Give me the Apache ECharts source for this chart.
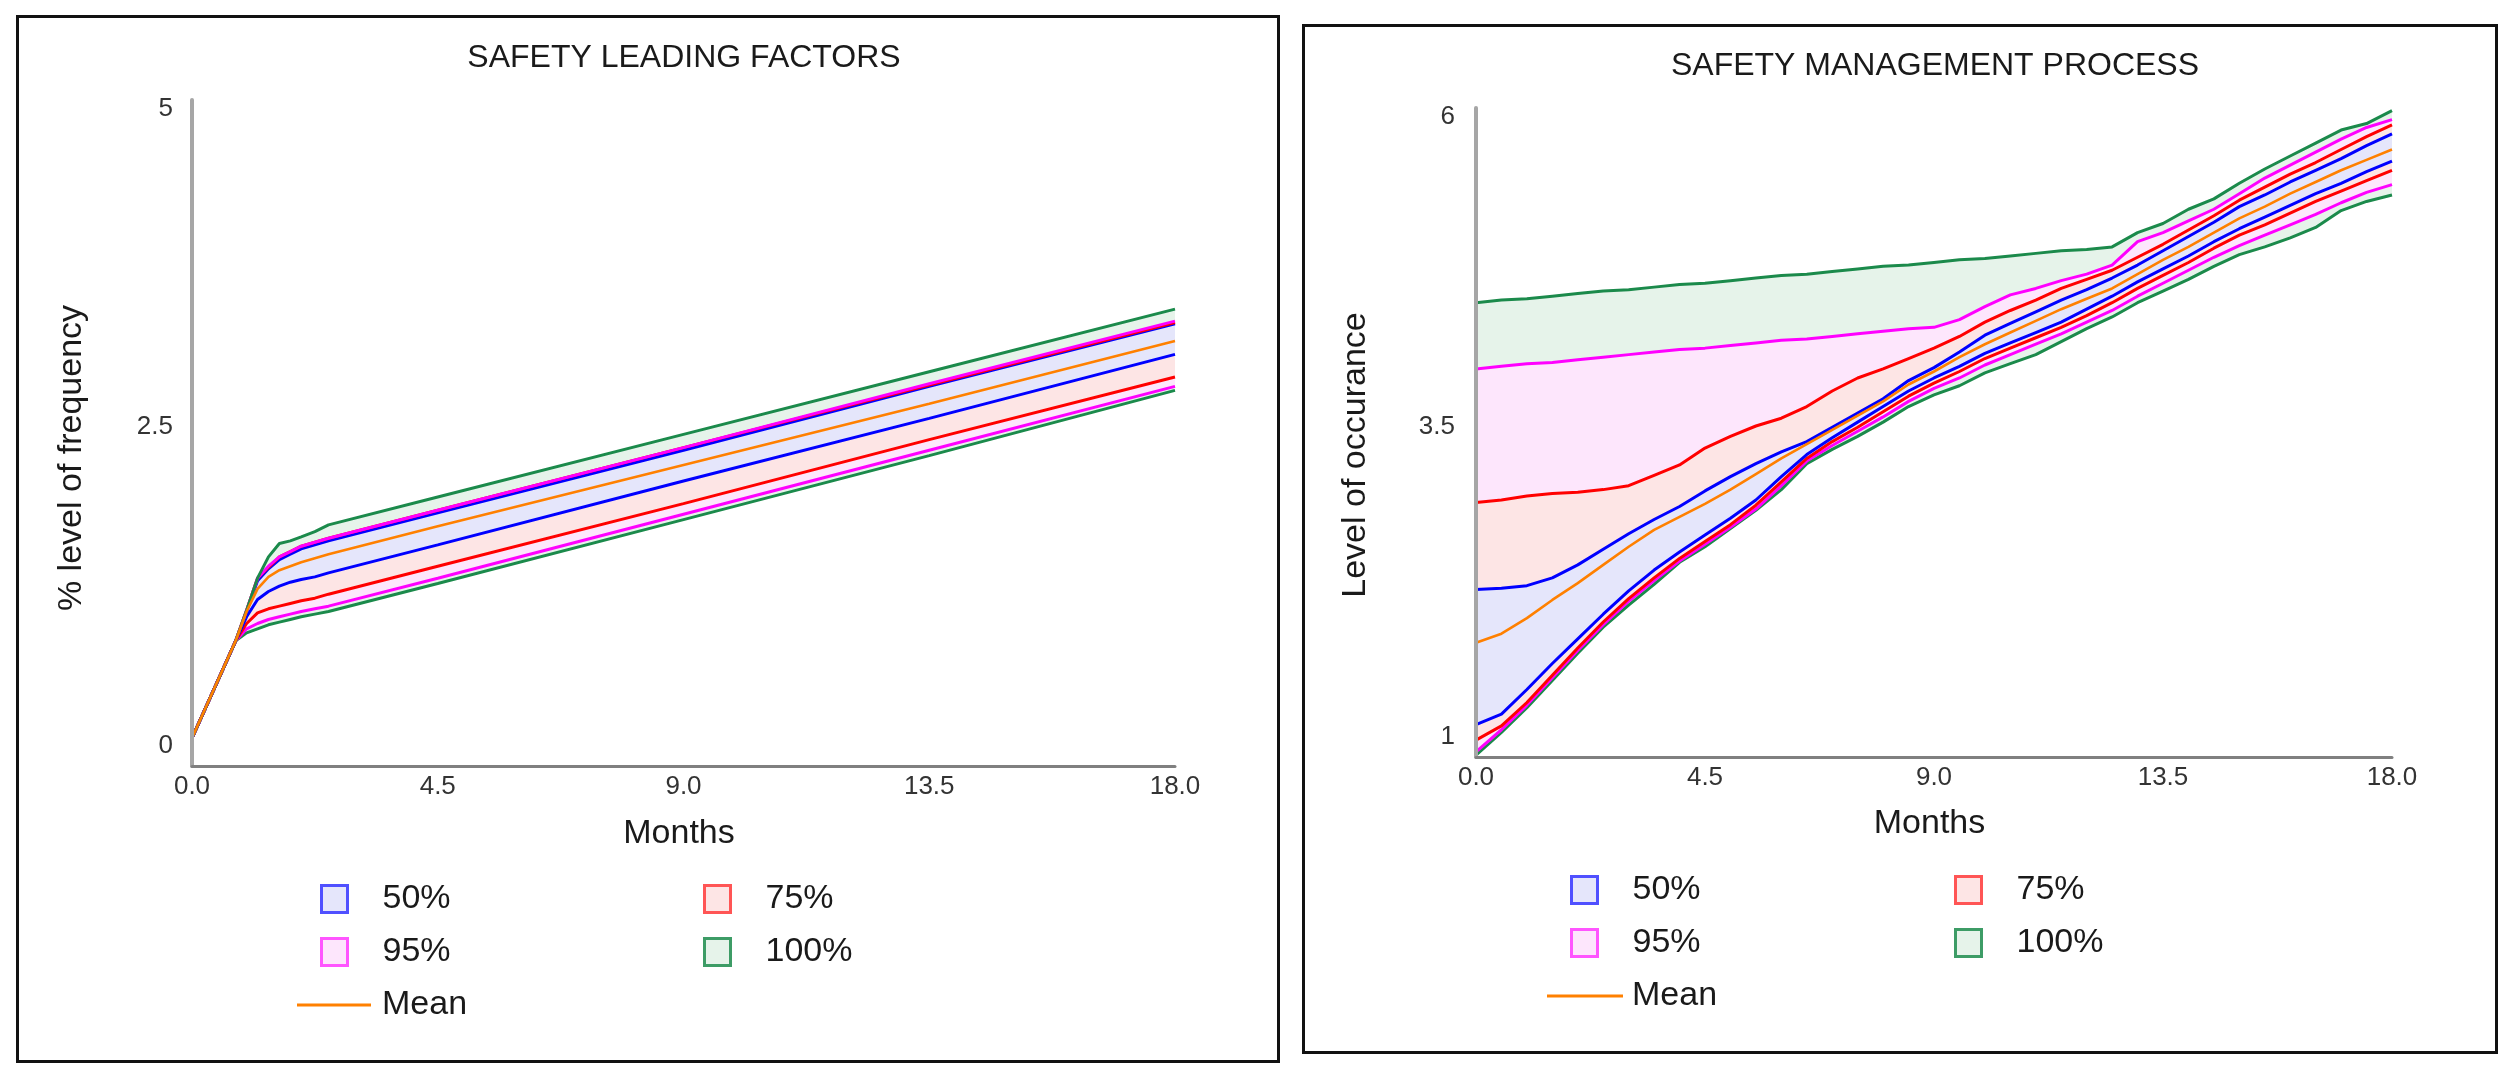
<!DOCTYPE html>
<html><head><meta charset="utf-8">
<script src="https://cdn.jsdelivr.net/npm/echarts@6/dist/echarts.min.js"></script>
<style>
html,body{margin:0;padding:0;background:#fff;width:2514px;height:1076px;overflow:hidden;}
.panel{position:absolute;border:3px solid #111;box-sizing:border-box;background:#fff;}
.panel .c{position:absolute;left:0;top:0;right:0;bottom:0;}
</style></head><body>
<div class="panel" style="left:16px;top:15px;width:1264px;height:1048px;"><div class="c" id="c1"></div></div>
<div class="panel" style="left:1302px;top:24px;width:1196px;height:1030px;"><div class="c" id="c2"></div></div>
<script>
// ---------------- DATA: SAFETY LEADING FACTORS ----------------
const leftMonths  = [0, 0.8, 1.0, 1.2, 1.4, 1.6, 1.8, 2.0, 2.25, 2.5, 4.5, 9, 13.5, 18];
const leftUp100   = [0.21, 0.94, 1.17, 1.41, 1.57, 1.67, 1.69, 1.72, 1.76, 1.81, 2.02, 2.49, 2.96, 3.43];
const leftUp95    = [0.21, 0.94, 1.17, 1.41, 1.50, 1.57, 1.61, 1.65, 1.68, 1.71, 1.92, 2.39, 2.87, 3.34];
const leftUp75    = [0.21, 0.94, 1.17, 1.41, 1.49, 1.57, 1.61, 1.65, 1.68, 1.71, 1.92, 2.39, 2.86, 3.33];
const leftUp50    = [0.21, 0.94, 1.16, 1.39, 1.48, 1.55, 1.59, 1.63, 1.66, 1.69, 1.90, 2.37, 2.85, 3.32];
const leftMean    = [0.21, 0.94, 1.16, 1.33, 1.42, 1.47, 1.50, 1.53, 1.56, 1.59, 1.80, 2.26, 2.72, 3.19];
const leftLo50    = [0.21, 0.94, 1.12, 1.25, 1.31, 1.35, 1.38, 1.40, 1.42, 1.45, 1.66, 2.14, 2.61, 3.09];
const leftLo75    = [0.21, 0.94, 1.07, 1.15, 1.18, 1.20, 1.22, 1.24, 1.26, 1.29, 1.50, 1.97, 2.45, 2.92];
const leftLo95    = [0.21, 0.94, 1.03, 1.07, 1.10, 1.12, 1.14, 1.16, 1.18, 1.20, 1.41, 1.89, 2.37, 2.85];
const leftLo100   = [0.21, 0.94, 1.00, 1.03, 1.06, 1.08, 1.10, 1.12, 1.14, 1.16, 1.37, 1.85, 2.33, 2.82];
const leftYTicks  = [0, 2.5, 5];

// ---------------- DATA: SAFETY MANAGEMENT PROCESS ----------------
const rightMonths = [0,0.5,1,1.5,2,2.5,3,3.5,4,4.5,5,5.5,6,6.5,7,7.5,8,8.5,9,9.5,10,10.5,11,11.5,12,12.5,13,13.5,14,14.5,15,15.5,16,16.5,17,17.5,18];
const rightUp100 = [4.50,4.52,4.53,4.55,4.57,4.59,4.60,4.62,4.64,4.65,4.67,4.69,4.71,4.72,4.74,4.76,4.78,4.79,4.81,4.83,4.84,4.86,4.88,4.90,4.91,4.93,5.04,5.11,5.22,5.30,5.42,5.53,5.63,5.73,5.83,5.88,5.98];
const rightUp95  = [3.99,4.01,4.03,4.04,4.06,4.08,4.10,4.12,4.14,4.15,4.17,4.19,4.21,4.22,4.24,4.26,4.28,4.30,4.31,4.37,4.47,4.56,4.61,4.67,4.72,4.79,4.97,5.04,5.13,5.22,5.34,5.46,5.56,5.66,5.76,5.85,5.91];
const rightUp75  = [2.96,2.98,3.01,3.03,3.04,3.06,3.09,3.17,3.25,3.38,3.47,3.55,3.61,3.70,3.82,3.92,3.99,4.07,4.15,4.24,4.35,4.44,4.52,4.61,4.68,4.75,4.85,4.95,5.06,5.17,5.29,5.39,5.49,5.58,5.68,5.78,5.87];
const rightUp50  = [2.29,2.30,2.32,2.38,2.48,2.60,2.72,2.83,2.93,3.05,3.16,3.26,3.35,3.43,3.54,3.65,3.76,3.90,4.00,4.12,4.25,4.34,4.43,4.52,4.60,4.69,4.79,4.90,5.01,5.12,5.24,5.33,5.43,5.52,5.61,5.71,5.80];
const rightMean  = [1.88,1.95,2.07,2.21,2.34,2.48,2.62,2.75,2.85,2.95,3.06,3.18,3.30,3.41,3.52,3.63,3.74,3.87,3.97,4.08,4.18,4.27,4.36,4.45,4.53,4.61,4.72,4.83,4.93,5.04,5.15,5.24,5.34,5.43,5.52,5.60,5.68];
const rightLo50  = [1.25,1.33,1.52,1.72,1.91,2.10,2.28,2.44,2.58,2.71,2.84,2.98,3.16,3.33,3.46,3.58,3.70,3.82,3.92,4.01,4.11,4.19,4.27,4.35,4.45,4.55,4.66,4.76,4.86,4.97,5.07,5.16,5.25,5.34,5.42,5.51,5.59];
const rightLo75  = [1.13,1.24,1.42,1.63,1.84,2.04,2.22,2.38,2.53,2.66,2.79,2.94,3.12,3.30,3.43,3.54,3.66,3.78,3.88,3.97,4.07,4.15,4.23,4.31,4.40,4.50,4.61,4.71,4.81,4.92,5.02,5.10,5.19,5.28,5.36,5.44,5.52];
const rightLo95  = [1.04,1.21,1.40,1.61,1.82,2.02,2.20,2.36,2.51,2.64,2.77,2.91,3.09,3.28,3.40,3.51,3.62,3.74,3.84,3.92,4.02,4.10,4.18,4.26,4.35,4.44,4.55,4.65,4.75,4.85,4.94,5.02,5.10,5.18,5.27,5.35,5.41];
const rightLo100 = [1.015,1.19,1.38,1.59,1.80,2.00,2.17,2.33,2.50,2.62,2.76,2.90,3.06,3.26,3.37,3.47,3.58,3.70,3.79,3.86,3.96,4.03,4.10,4.20,4.30,4.39,4.50,4.59,4.68,4.78,4.87,4.93,5.00,5.08,5.21,5.28,5.33];
const rightYTicks = [1, 3.5, 6];

const xTicks = [0, 4.5, 9, 13.5, 18];
const legendNames = ['50%', '75%', '95%', '100%', 'Mean'];

// ---------------- STYLE ----------------
const FONT = "'Liberation Sans', Arial, Helvetica, sans-serif";
const COL = {
  green: '#1b8a4b', magenta: '#ff00ff', red: '#ff0000', blue: '#0000ff', orange: '#ff8000',
  greenFill: '#e6f3ea', magentaFill: '#fde6fc', redFill: '#fde5e5', blueFill: '#e5e6fb',
  greenBox: '#3d9c66', magentaBox: '#ff55ff', redBox: '#ff5555', blueBox: '#5050ff'
};

function build(cfg) {
  const m = cfg.months;
  const pair = a => m.map((t, i) => [t, a[i]]);
  // band fills: each boundary filled down to the axis, painted top boundary first,
  // so every strip between two boundaries keeps the colour of the band it belongs to
  const fill = (name, arr, color) => ({
    type: 'line', name, data: pair(arr), z: 1, silent: true,
    symbol: 'none', showSymbol: false, lineStyle: { width: 0 },
    areaStyle: { color, opacity: 1, origin: 'start' },
    emphasis: { disabled: true }
  });
  const line = (name, arr, color, z, w) => ({
    type: 'line', name, data: pair(arr), z: z, silent: true,
    symbol: 'none', showSymbol: false, lineStyle: { color, width: w || 3 },
    itemStyle: { color }, emphasis: { disabled: true }
  });
  const b = cfg.bands;
  const series = [
    fill('100%', b.up100, COL.greenFill),
    fill('95%', b.up95, COL.magentaFill),
    fill('75%', b.up75, COL.redFill),
    fill('50%', b.up50, COL.blueFill),
    fill('75%', b.lo50, COL.redFill),
    fill('95%', b.lo75, COL.magentaFill),
    fill('100%', b.lo95, COL.greenFill),
    fill('100%', b.lo100, '#ffffff'),
    line('100%', b.lo100, COL.green, 2),
    line('95%', b.lo95, COL.magenta, 2),
    line('75%', b.lo75, COL.red, 2),
    line('50%', b.lo50, COL.blue, 2),
    line('50%', b.up50, COL.blue, 2),
    line('75%', b.up75, COL.red, 2),
    line('95%', b.up95, COL.magenta, 2),
    line('100%', b.up100, COL.green, 2),
    line('Mean', cfg.mean, COL.orange, 3, 2.6)
  ];
  const lg = cfg.legend;
  const boxLegend = (name, left, top, fillC, border) => ({
    left, top, padding: 0, selectedMode: false, itemWidth: 26, itemHeight: 27,
    data: [{ name, icon: 'rect', itemStyle: { color: fillC, borderColor: border, borderWidth: 3 } }],
    textStyle: { fontSize: 34, lineHeight: 36, color: '#1a1a1a', fontFamily: FONT, padding: [0, 0, 14, 30] }
  });
  const legend = [
    boxLegend(legendNames[0], lg.c1, lg.r1, COL.blueFill, COL.blueBox),
    boxLegend(legendNames[1], lg.c2, lg.r1, COL.redFill, COL.redBox),
    boxLegend(legendNames[2], lg.c1, lg.r2, COL.magentaFill, COL.magentaBox),
    boxLegend(legendNames[3], lg.c2, lg.r2, COL.greenFill, COL.greenBox),
    {
      left: lg.meanLeft, top: lg.r3, padding: 0, selectedMode: false, itemWidth: lg.meanW, itemHeight: 3,
      data: [{ name: legendNames[4], icon: 'rect', itemStyle: { color: COL.orange, borderWidth: 0 } }],
      textStyle: { fontSize: 34, lineHeight: 36, color: '#1a1a1a', fontFamily: FONT, padding: [0, 0, 14, lg.meanPad] }
    }
  ];
  const yt = cfg.yTicks;
  const lblStyle = { fontSize: 26, color: '#333', fontFamily: FONT };
  return {
    animation: false,
    title: {
      text: cfg.title, left: cfg.titleX, top: cfg.titleY, textAlign: 'center',
      textStyle: { fontSize: 32, fontWeight: 'normal', color: '#1a1a1a', fontFamily: FONT }
    },
    grid: cfg.grid,
    xAxis: {
      type: 'value', min: xTicks[0], max: xTicks[xTicks.length - 1], interval: 4.5, z: 10,
      name: 'Months', nameLocation: 'middle', nameGap: cfg.xNameGap,
      nameTextStyle: { fontSize: 34, color: '#1a1a1a', fontFamily: FONT, padding: [0, 9, 0, 0] },
      axisLine: { show: true, onZero: false, lineStyle: { color: '#808080', width: 3 } },
      axisTick: { show: false }, splitLine: { show: false },
      axisLabel: Object.assign({ margin: 8, formatter: v => v.toFixed(1) }, lblStyle)
    },
    yAxis: {
      type: 'value', min: yt[0], max: yt[2], interval: cfg.yInterval, z: 10,
      name: cfg.yName, nameLocation: 'middle', nameRotate: 90, nameGap: 103,
      nameTextStyle: { fontSize: 34, color: '#1a1a1a', fontFamily: FONT, padding: [0, cfg.yNameShift, 0, 0] },
      axisLine: { show: true, onZero: false, lineStyle: { color: '#a6a6a6', width: 4 } },
      axisTick: { show: false }, splitLine: { show: false },
      axisLabel: Object.assign({
        margin: cfg.yLabelMargin, showMinLabel: true, showMaxLabel: true,
        formatter: function (v) {
          if (Math.abs(v - yt[2]) < 1e-9) return '{t|' + v + '}';
          if (Math.abs(v - yt[1]) < 1e-9) return '{m|' + v + '}';
          if (Math.abs(v - yt[0]) < 1e-9) return '{b|' + v + '}';
          return '';
        },
        rich: {
          t: Object.assign({ padding: [18, 0, 0, 0] }, lblStyle),
          m: Object.assign({ padding: [0, 0, 12, 0] }, lblStyle),
          b: Object.assign({ padding: [0, 0, 40, 0] }, lblStyle)
        }
      }, lblStyle)
    },
    legend,
    series
  };
}

const chart1 = echarts.init(document.getElementById('c1'), null, { renderer: 'canvas' });
chart1.setOption(build({
  title: 'SAFETY LEADING FACTORS', titleX: 660, titleY: 19,
  grid: { left: 173, top: 82, width: 983, height: 666 },
  months: leftMonths,
  bands: { lo100: leftLo100, lo95: leftLo95, lo75: leftLo75, lo50: leftLo50, up50: leftUp50, up75: leftUp75, up95: leftUp95, up100: leftUp100 },
  mean: leftMean, yTicks: leftYTicks, yInterval: 2.5, yName: '% level of frequency', yNameShift: 50,
  yLabelMargin: 19, xNameGap: 51,
  legend: { c1: 301, c2: 684, r1: 856, r2: 909, r3: 962, meanLeft: 278, meanW: 74, meanPad: 6 }
}));

const chart2 = echarts.init(document.getElementById('c2'), null, { renderer: 'canvas' });
chart2.setOption(build({
  title: 'SAFETY MANAGEMENT PROCESS', titleX: 625, titleY: 18,
  grid: { left: 171, top: 81, width: 916, height: 649 },
  months: rightMonths,
  bands: { lo100: rightLo100, lo95: rightLo95, lo75: rightLo75, lo50: rightLo50, up50: rightUp50, up75: rightUp75, up95: rightUp95, up100: rightUp100 },
  mean: rightMean, yTicks: rightYTicks, yInterval: 0.5, yName: 'Level of occurance', yNameShift: 45,
  yLabelMargin: 21, xNameGap: 50,
  legend: { c1: 265, c2: 649, r1: 838, r2: 891, r3: 944, meanLeft: 242, meanW: 76, meanPad: 4 }
}));
</script>
</body></html>
